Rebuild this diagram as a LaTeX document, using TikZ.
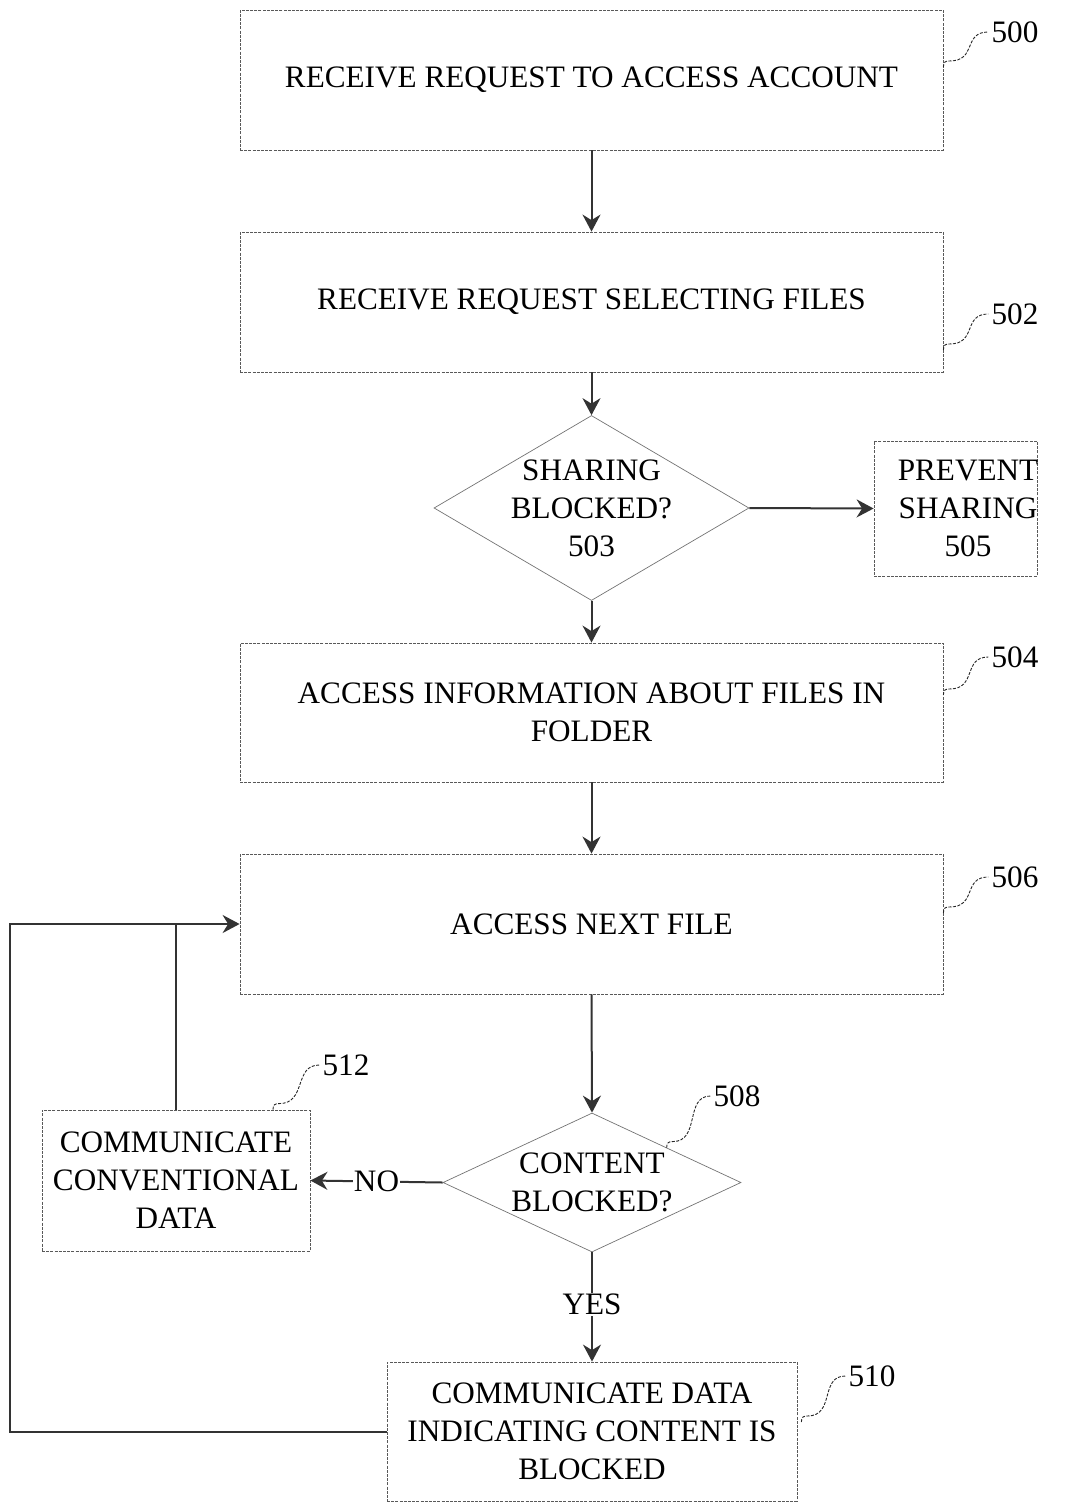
\documentclass[tikz,border=0pt]{standalone}
\usepackage{fontspec}
\setmainfont{Liberation Serif}
\usetikzlibrary{arrows.meta,shapes.geometric,calc}
\newcommand\fs{\fontsize{31.2}{38}\selectfont}
\newcommand\leader[2]{\draw[sq] (#1) .. controls +(0,-5) and +(-4,0) .. ++(6,-6) .. controls +(28,0) and +(-26,0) .. (#2);}
\begin{document}
\begin{tikzpicture}[x=1pt,y=-1pt,
 box/.style={draw=black!65, line width=0.8pt, dash pattern=on 3pt off 1.2pt, rectangle, inner sep=0pt, align=center, font=\fs},
 dia/.style={draw=black!55, line width=0.7pt, diamond, inner sep=0pt},
 txt/.style={align=center, font=\fs, inner sep=0pt},
 arr/.style={draw=black!80, line width=2pt, -{Stealth[length=17pt,width=18pt]}},
 ln/.style={draw=black!80, line width=2pt},
 sq/.style={draw=black!85, line width=0.9pt, dash pattern=on 3pt off 1.5pt},
 lab/.style={font=\fs, inner sep=0pt}]
\useasboundingbox (0,0) rectangle (1066,1503);

% boxes
\node[box, minimum width=703pt, minimum height=140pt] (b500) at (591.5,80) {RECEIVE REQUEST TO ACCESS ACCOUNT};
\node[box, minimum width=703pt, minimum height=140pt] (b502) at (591.5,302) {RECEIVE REQUEST SELECTING FILES};
\node[dia, minimum width=315pt, minimum height=185pt] (d503) at (591.5,508) {};
\node[txt] (t503) at (591.5,508) {SHARING\\BLOCKED?\\503};
\node[box, minimum width=163pt, minimum height=135pt] (b505) at (955.5,508.5) {};
\node[txt] (t505) at (968,508) {PREVENT\\SHARING\\505};
\node[box, minimum width=703pt, minimum height=139pt] (b504) at (591.5,712.5) {ACCESS INFORMATION ABOUT FILES IN\\FOLDER};
\node[box, minimum width=703pt, minimum height=140pt] (b506) at (591.5,924) {ACCESS NEXT FILE};
\node[dia, minimum width=298pt, minimum height=139pt] (d508) at (592,1182.5) {};
\node[txt] (t508) at (592,1182) {CONTENT\\BLOCKED?};
\node[box, minimum width=268pt, minimum height=141pt] (b512) at (176,1180.5) {COMMUNICATE\\CONVENTIONAL\\DATA};
\node[box, minimum width=410pt, minimum height=139pt] (b510) at (592,1431.5) {COMMUNICATE DATA\\INDICATING CONTENT IS\\BLOCKED};

% reference labels
\node[lab] (l500) at (1015,32) {500};
\node[lab] (l502) at (1015,314) {502};
\node[lab] (l504) at (1015,657) {504};
\node[lab] (l506) at (1015,877) {506};
\node[lab] (l508) at (737,1096) {508};
\node[lab] (l512) at (346,1065) {512};
\node[lab] (l510) at (872,1376) {510};

\leader{[yshift=13pt]b500.east}{[xshift=-3pt]l500.west}
\leader{[yshift=-48pt]b502.east}{[xshift=-3pt]l502.west}
\leader{[yshift=17.5pt]b504.east}{[xshift=-3pt]l504.west}
\leader{[yshift=11pt]b506.east}{[xshift=-3pt]l506.west}
\leader{$(d508.north)!0.5!(d508.east)$}{[xshift=-3pt]l508.west}
\leader{[xshift=97pt]b512.north}{[xshift=-3pt]l512.west}
\leader{[xshift=4pt,yshift=9.5pt]b510.east}{[xshift=-3pt]l510.west}

% connectors
\draw[arr] (b500.south) -- (b502.north);
\draw[arr] (b502.south) -- (d503.north);
\draw[arr] (d503.south) -- (b504.north);
\draw[arr] (d503.east) -- (b505.west);
\draw[arr] (b504.south) -- (b506.north);
\draw[arr] (b506.south) -- (d508.north);
\draw[arr] (d508.west) -- node[fill=white, font=\fs, inner sep=1pt] (no) {NO} (b512.east);
\draw[arr] (d508.south) -- node[fill=white, font=\fs, inner sep=1pt, pos=0.48] (yes) {YES} (b510.north);
\coordinate (lp) at (10,924);
\draw[arr] (b510.west) -- (b510.west -| lp) -- (lp) -- (b506.west);
\draw[ln] (b512.north) -- (b512.north |- b506.west);
\end{tikzpicture}
\end{document}
